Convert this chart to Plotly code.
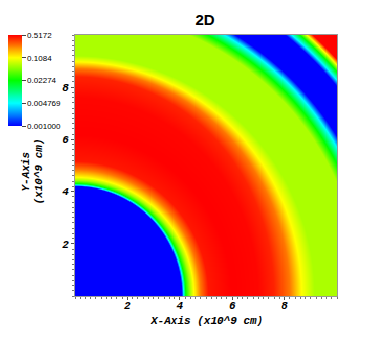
import numpy as np
import plotly.graph_objects as go

# density levels read off the picture, and where each level sits
# along the x-axis (radius_x) and along the y-axis (radius_y), in 1e9 cm
density = [0.0005, 0.0005, 0.001, 0.005, 0.023, 0.06, 0.11, 0.25, 0.45, 0.52, 0.50, 0.42, 0.25, 0.11,
           0.065, 0.065, 0.023, 0.005, 0.001, 0.0005, 0.0005, 0.001, 0.005, 0.023, 0.11, 0.50, 0.52]
radius_x = [0.0, 4.04, 4.08, 4.15, 4.23, 4.40, 4.55, 4.80, 5.10, 6.00, 7.00, 7.60, 8.20, 8.65,
            9.15, 10.90, 11.20, 11.50, 11.72, 11.85, 12.70, 12.82, 12.98, 13.18, 13.35, 13.50, 14.30]
radius_y = [0.0, 4.15, 4.19, 4.24, 4.30, 4.42, 4.55, 4.85, 5.15, 6.20, 7.60, 8.40, 8.70, 8.96,
            9.20, 10.90, 11.20, 11.50, 11.72, 11.85, 12.70, 12.82, 12.98, 13.18, 13.35, 13.50, 14.30]

cb_ticks = [0.001, 0.004769, 0.02274, 0.1084, 0.5172]
cb_labels = ['0.001000', '0.004769', '0.02274', '0.1084', '0.5172']
x_ticks = [2, 4, 6, 8]
y_ticks = [2, 4, 6, 8]

# VisIt "hot" colour table
hot = [[0.0, 'rgb(0,0,255)'], [0.25, 'rgb(0,255,255)'], [0.5, 'rgb(0,255,0)'],
       [0.75, 'rgb(255,255,0)'], [1.0, 'rgb(255,0,0)']]

n = 250
xs = (np.arange(n) + 0.5) * 10.0 / n
ys = (np.arange(n) + 0.5) * 10.0 / n
xx, yy = np.meshgrid(xs, ys)
rr = np.sqrt(xx ** 2 + yy ** 2)
w = np.sin(np.arctan2(yy, xx)) ** 2

# level positions for every cell's direction, then linear in log density between them
rx = np.array(radius_x)
ry = np.array(radius_y)
ld = np.log10(density)
B = (1 - w)[..., None] * rx + w[..., None] * ry
k = np.clip((B <= rr[..., None]).sum(-1) - 1, 0, len(rx) - 2)
b0 = np.take_along_axis(B, k[..., None], -1)[..., 0]
b1 = np.take_along_axis(B, (k + 1)[..., None], -1)[..., 0]
f = np.clip((rr - b0) / (b1 - b0), 0, 1)
z = ld[k] + f * (ld[k + 1] - ld[k])

zmin = np.log10(cb_ticks[0])
zmax = np.log10(cb_ticks[-1])

# page body has an 8px margin, so the figure is 8px smaller than the window
W, H = 366, 340
ML, MR, MT, MB = 67, 37, 27, 52
PW = W - ML - MR
PH = H - MT - MB

fig = go.Figure(go.Heatmap(
    x=xs, y=ys, z=z, zmin=zmin, zmax=zmax, colorscale=hot,
    hoverinfo='skip',
    colorbar=dict(
        xref='paper', yref='paper', x=(7 - 75) / PW, y=1,
        xanchor='left', yanchor='top', xpad=0, ypad=0,
        thickness=15, len=91, lenmode='pixels', outlinewidth=0,
        tickvals=list(np.log10(cb_ticks)), ticktext=cb_labels,
        ticks='outside', ticklen=4, tickwidth=1, tickcolor='#444',
        tickfont=dict(family='Liberation Sans', size=8, color='black'),
    ),
))

tick_font = dict(family='Liberation Mono', size=11, color='black', weight='bold', style='italic')
axis = dict(range=[0, 10], showgrid=False, zeroline=False, showline=True, mirror=True,
            linecolor='#999', linewidth=1, ticks='outside', ticklen=3, tickcolor='#555',
            tickfont=tick_font,
            minor=dict(dtick=0.2, ticks='outside', ticklen=2, tickcolor='#777'))

fig.update_xaxes(**axis, tickvals=x_ticks, ticktext=[str(v) for v in x_ticks],
                 ticklabelstandoff=-4)
fig.update_yaxes(**axis, tickvals=y_ticks, ticktext=[str(v) for v in y_ticks],
                 ticklabelstandoff=0)

title_font = dict(family='Liberation Mono', size=11, color='black', weight='bold', style='italic')
ytitle_y = 1 - (172 - 8 - MT) / PH
fig.update_layout(
    width=W, height=H,
    margin=dict(l=ML, r=MR, t=MT, b=MB, autoexpand=False),
    plot_bgcolor='white', paper_bgcolor='white',
    title=dict(text='<b>2D</b>', x=(205 - 8) / W, xanchor='center', y=1 - 12 / H, yanchor='middle',
               font=dict(family='Liberation Sans', size=15, color='black')),
    annotations=[
        dict(text='X-Axis (x10^9 cm)', xref='paper', yref='paper', x=0.5, y=-0.065,
             xanchor='center', yanchor='top', showarrow=False, font=title_font),
        dict(text='Y-Axis', xref='paper', yref='paper', x=(25.5 - 8 - ML) / PW, y=ytitle_y,
             xanchor='center', yanchor='middle', showarrow=False, textangle=-90, font=title_font),
        dict(text='(x10^9 cm)', xref='paper', yref='paper', x=(38.5 - 8 - ML) / PW, y=ytitle_y,
             xanchor='center', yanchor='middle', showarrow=False, textangle=-90, font=title_font),
    ],
)

fig.write_html('out.html')
